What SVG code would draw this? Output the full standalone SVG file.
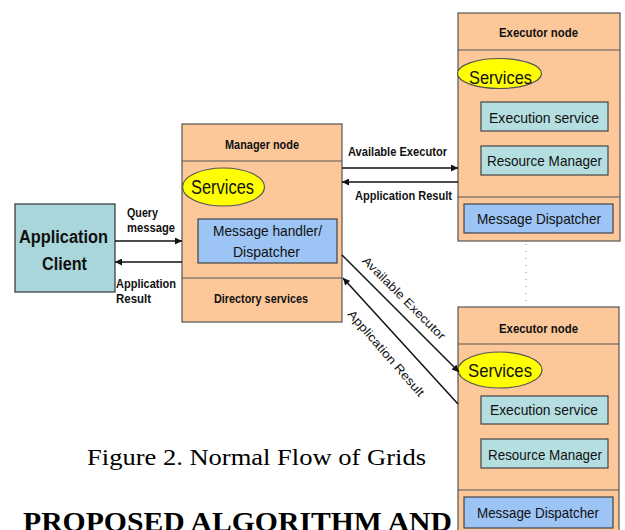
<svg xmlns="http://www.w3.org/2000/svg" width="625" height="530" viewBox="0 0 625 530">
<defs>
<style>
.box{fill:#FCC89A;stroke:#555;stroke-width:1.2}
.div{stroke:#555;stroke-width:1.2}
.teal{fill:#B5DEE0;stroke:#444;stroke-width:1.2}
.blue{fill:#9CC4F4;stroke:#444;stroke-width:1.2}
.client{fill:#A9D6DA;stroke:#333;stroke-width:1.2}
.ell{fill:#FFFF00;stroke:#555;stroke-width:1.2}
.t{font-family:"Liberation Sans",Arial,sans-serif;fill:#111}
.b{font-weight:bold}
.c{text-anchor:middle}
.ln{stroke:#111;stroke-width:1.5;fill:none}
.cap{font-family:"Liberation Serif","Times New Roman",serif;fill:#000}
</style>
<marker id="ah" viewBox="0 0 10 10" refX="10" refY="5" markerWidth="8" markerHeight="7" markerUnits="userSpaceOnUse" orient="auto">
<path d="M0,0 L10,5 L0,10 z" fill="#111"/>
</marker>
</defs>
<rect width="625" height="530" fill="#fff"/>

<g id="client">
<rect class="client" x="15" y="204" width="100" height="88"/>
<text class="t b c" x="63.5" y="243" font-size="18" textLength="89" lengthAdjust="spacingAndGlyphs">Application</text>
<text class="t b c" x="64.5" y="270" font-size="18" textLength="45" lengthAdjust="spacingAndGlyphs">Client</text>
</g>

<g id="manager">
<rect class="box" x="182" y="124" width="160" height="198"/>
<line class="div" x1="182" y1="161" x2="342" y2="161"/>
<line class="div" x1="182" y1="278" x2="342" y2="278"/>
<text class="t b c" x="262" y="149" font-size="12.5" textLength="74" lengthAdjust="spacingAndGlyphs">Manager node</text>
<ellipse class="ell" cx="223.5" cy="187" rx="41" ry="19"/>
<text class="t" x="191" y="194" font-size="20" textLength="63" lengthAdjust="spacingAndGlyphs">Services</text>
<rect class="blue" x="198" y="219" width="139" height="44"/>
<text class="t c" x="267.5" y="236" font-size="15" textLength="109" lengthAdjust="spacingAndGlyphs">Message handler/</text>
<text class="t c" x="266.5" y="257" font-size="15" textLength="67" lengthAdjust="spacingAndGlyphs">Dispatcher</text>
<text class="t b c" x="261" y="303" font-size="12.5" textLength="94" lengthAdjust="spacingAndGlyphs">Directory services</text>
</g>

<g id="executor1">
<rect class="box" x="458" y="13" width="162" height="228"/>
<line class="div" x1="458" y1="50" x2="620" y2="50"/>
<line class="div" x1="458" y1="197" x2="620" y2="197"/>
<text class="t b c" x="538.5" y="37" font-size="12" textLength="79" lengthAdjust="spacingAndGlyphs">Executor  node</text>
<ellipse class="ell" cx="499.5" cy="73.5" rx="42" ry="15"/>
<text class="t" x="469" y="84" font-size="19" textLength="63" lengthAdjust="spacingAndGlyphs">Services</text>
<rect class="teal" x="481" y="102" width="127" height="29"/>
<text class="t c" x="544" y="123" font-size="15" textLength="110" lengthAdjust="spacingAndGlyphs">Execution service</text>
<rect class="teal" x="481" y="146" width="127" height="29"/>
<text class="t c" x="544.5" y="166" font-size="15" textLength="115" lengthAdjust="spacingAndGlyphs">Resource Manager</text>
<rect class="blue" x="464" y="204" width="149" height="29"/>
<text class="t c" x="539" y="224" font-size="15" textLength="124" lengthAdjust="spacingAndGlyphs">Message Dispatcher</text>
</g>

<g id="executor2">
<rect class="box" x="458" y="307" width="161" height="240"/>
<line class="div" x1="458" y1="344" x2="619" y2="344"/>
<line class="div" x1="458" y1="490" x2="619" y2="490"/>
<text class="t b c" x="538.5" y="333" font-size="12" textLength="79" lengthAdjust="spacingAndGlyphs">Executor  node</text>
<ellipse class="ell" cx="500" cy="370" rx="42" ry="18"/>
<text class="t" x="468" y="377" font-size="19" textLength="64" lengthAdjust="spacingAndGlyphs">Services</text>
<rect class="teal" x="481" y="396" width="127" height="28"/>
<text class="t c" x="544" y="415" font-size="15" textLength="108" lengthAdjust="spacingAndGlyphs">Execution service</text>
<rect class="teal" x="481" y="439" width="127" height="29"/>
<text class="t c" x="545" y="460" font-size="15" textLength="114" lengthAdjust="spacingAndGlyphs">Resource Manager</text>
<rect class="blue" x="464" y="497" width="149" height="31"/>
<text class="t c" x="538" y="518" font-size="15" textLength="122" lengthAdjust="spacingAndGlyphs">Message Dispatcher</text>
</g>

<g id="connectors">
<line class="ln" x1="115" y1="241" x2="182" y2="241" marker-end="url(#ah)"/>
<line class="ln" x1="182" y1="262" x2="115" y2="262" marker-end="url(#ah)" stroke-width="2"/>
<line class="ln" x1="342" y1="168" x2="458" y2="168" marker-end="url(#ah)"/>
<line class="ln" x1="458" y1="182" x2="342" y2="182" marker-end="url(#ah)" stroke-width="2"/>
<line class="ln" x1="342" y1="255" x2="459" y2="372" marker-end="url(#ah)"/>
<line class="ln" x1="458" y1="404" x2="343" y2="278" marker-end="url(#ah)" stroke-width="2"/>
<line x1="526" y1="244" x2="526" y2="305" stroke="#888" stroke-width="1" stroke-dasharray="1,6"/>
<text class="t b" x="127" y="217" font-size="12.5" textLength="31" lengthAdjust="spacingAndGlyphs">Query</text>
<text class="t b" x="127" y="232" font-size="12.5" textLength="48" lengthAdjust="spacingAndGlyphs">message</text>
<text class="t b" x="116" y="288" font-size="12.5" textLength="60" lengthAdjust="spacingAndGlyphs">Application</text>
<text class="t b" x="116" y="303" font-size="12.5" textLength="35" lengthAdjust="spacingAndGlyphs">Result</text>
<text class="t b" x="348" y="156" font-size="12.5" textLength="99" lengthAdjust="spacingAndGlyphs">Available Executor</text>
<text class="t b" x="355" y="200" font-size="12.5" textLength="97" lengthAdjust="spacingAndGlyphs">Application Result</text>
<text class="t c" x="401" y="301" font-size="12" textLength="112" lengthAdjust="spacingAndGlyphs" transform="rotate(45 401 301)">Available Executor</text>
<text class="t c" x="383" y="356" font-size="12" textLength="110" lengthAdjust="spacingAndGlyphs" transform="rotate(49 383 356)">Application Result</text>
</g>

<text class="cap" x="87" y="465" font-size="24" textLength="339" lengthAdjust="spacingAndGlyphs">Figure 2. Normal Flow of Grids</text>
<text class="cap" x="23" y="531" font-size="28" font-weight="bold" textLength="429" lengthAdjust="spacingAndGlyphs">PROPOSED ALGORITHM AND</text>
</svg>
